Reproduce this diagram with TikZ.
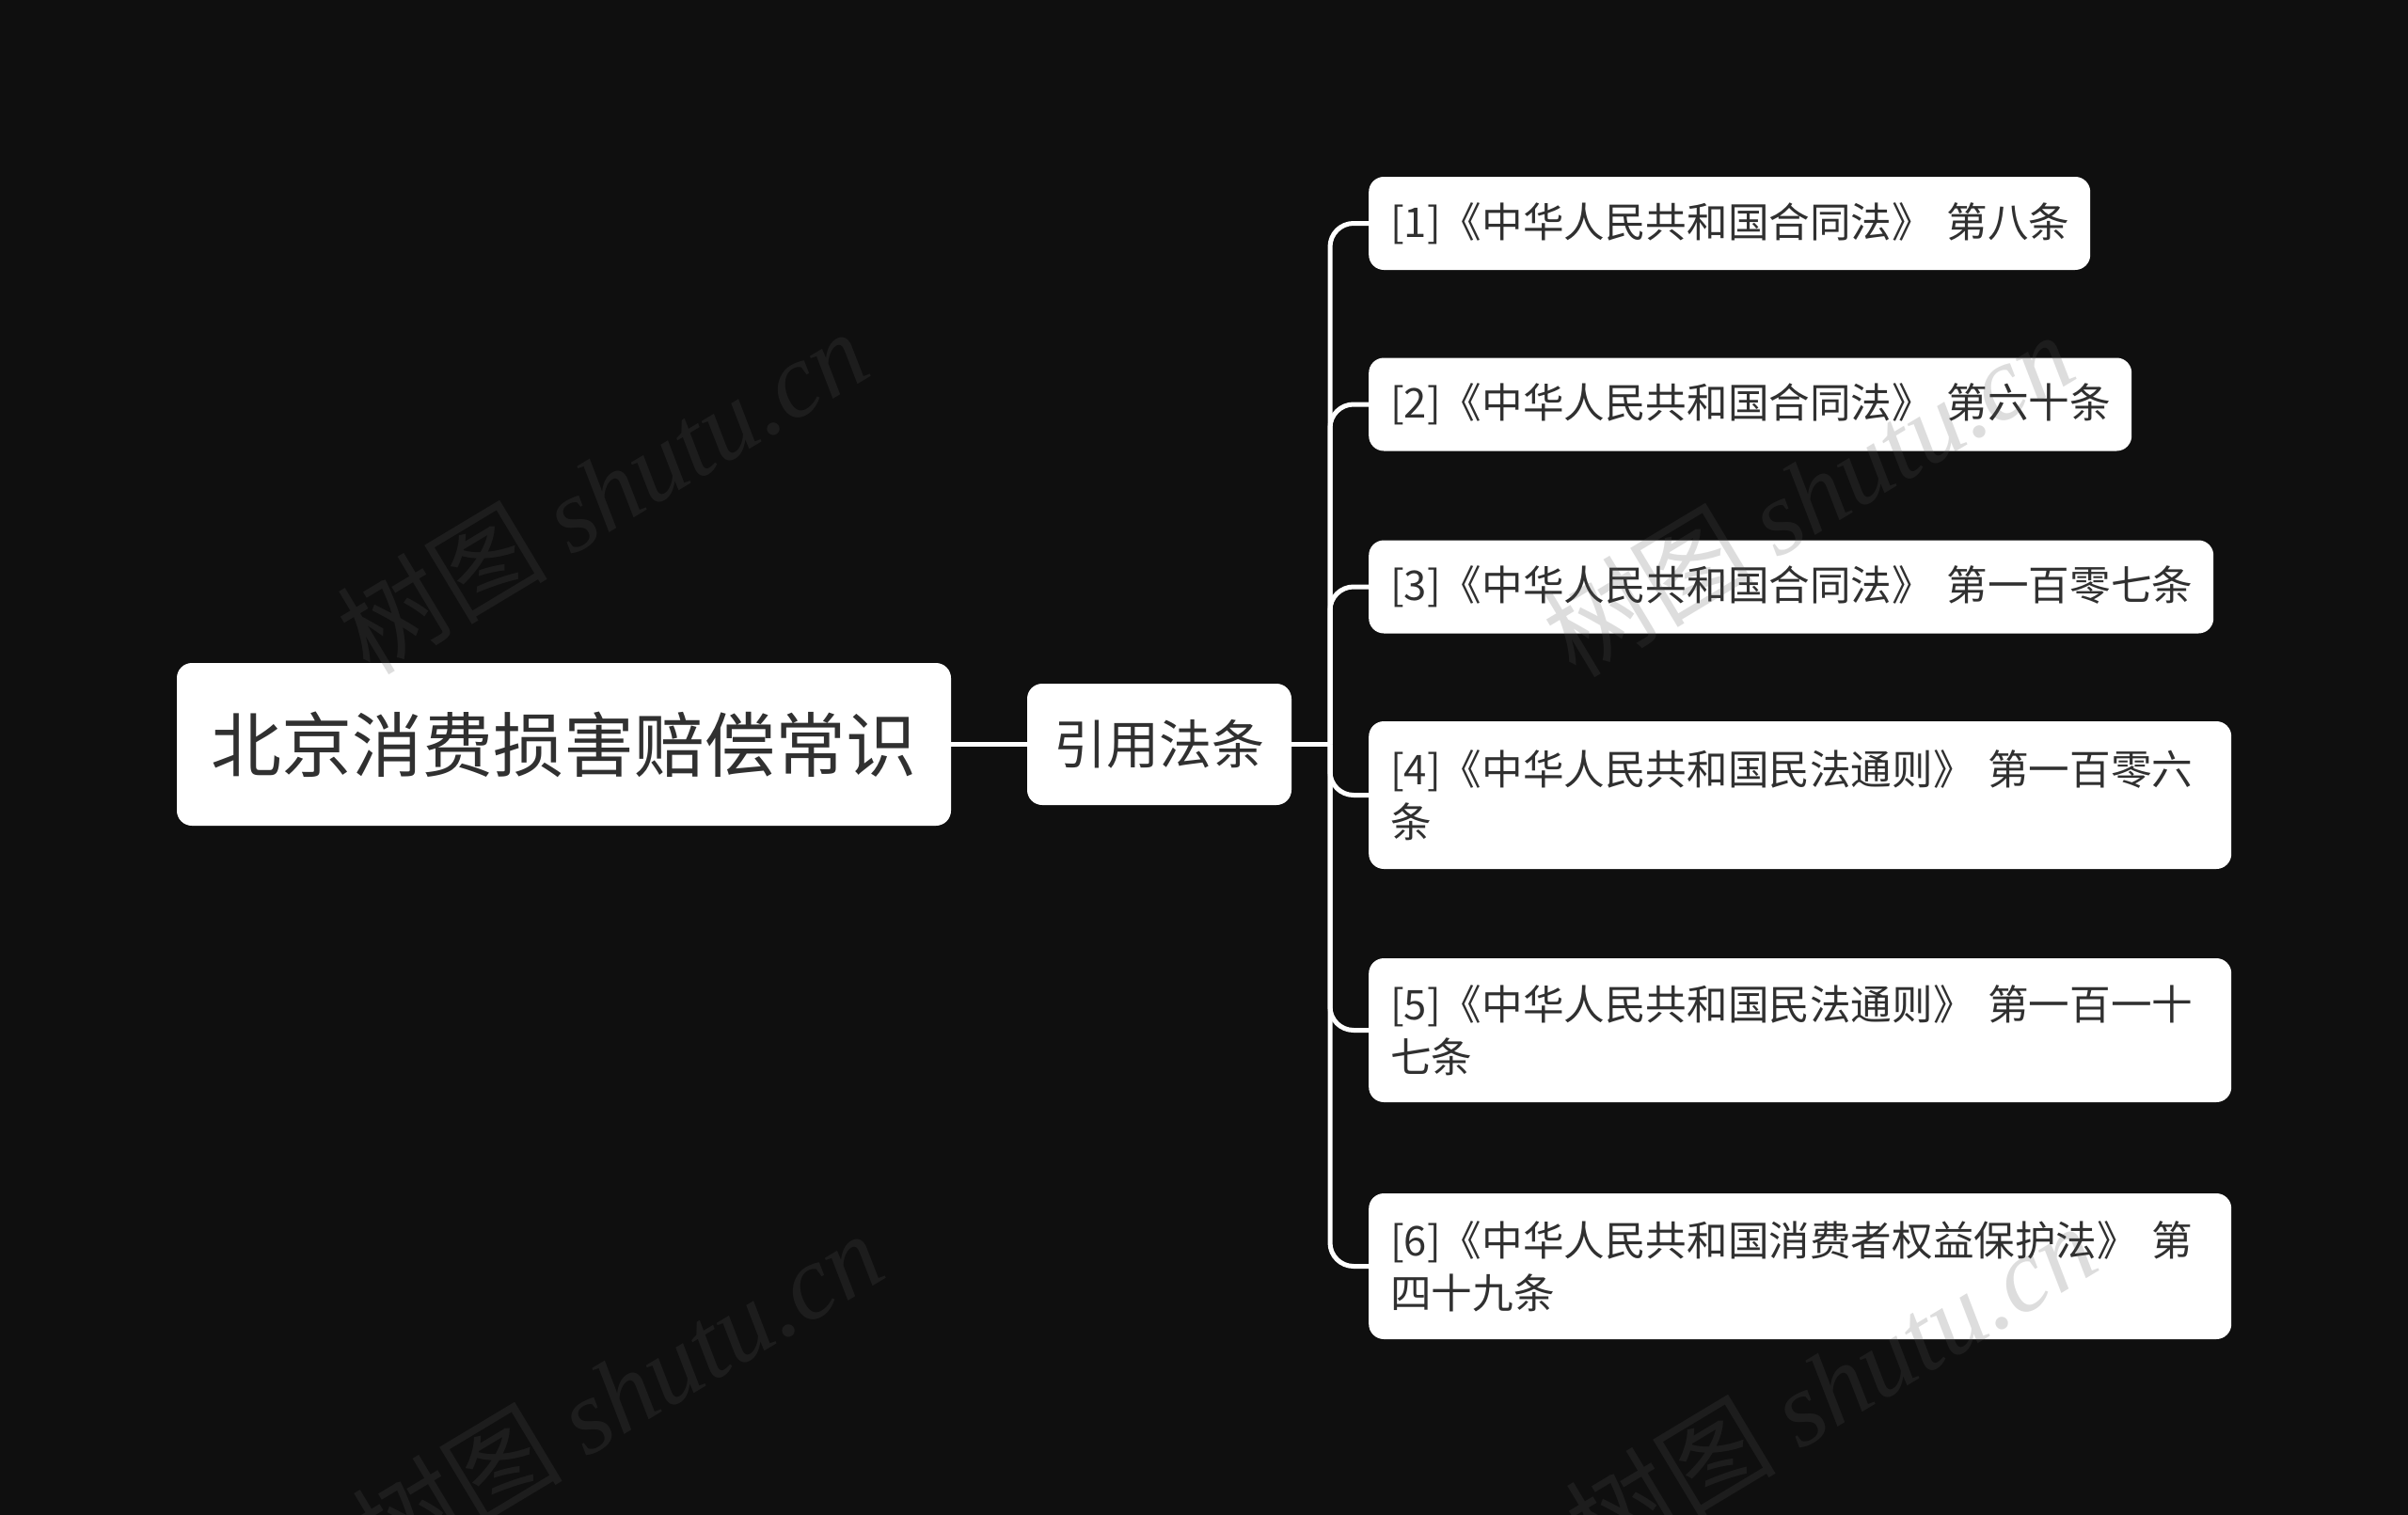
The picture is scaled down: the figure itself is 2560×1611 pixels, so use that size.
\documentclass[tikz,border=0pt]{standalone}
\usepackage{fontspec}
\setmainfont{Noto Sans CJK SC}
\newfontfamily\wmlatin{Liberation Serif}
\newfontfamily\wmcjk{Noto Sans CJK SC}
\definecolor{bgc}{HTML}{0F0F0F}
\definecolor{txt}{HTML}{303030}
\definecolor{wm}{HTML}{575757}
\newcommand\leafline[1]{\makebox[\linewidth][l]{#1}}
\tikzset{
  box/.style={fill=white, rounded corners=16pt, text=txt, inner xsep=23pt, inner ysep=0pt},
  leaf/.style={box, anchor=west, align=left, font=\fontsize{43.6}{56}\selectfont},
  link/.style={draw=white, line width=5pt},
  wmark/.style={text=wm, opacity=0.2, rotate=31, inner sep=0pt, font=\fontsize{112}{120}\selectfont}
}
\begin{document}
\begin{tikzpicture}[x=1pt,y=-1pt]
\fill[bgc] (0,0) rectangle (2560,1611);
\useasboundingbox (0,0) rectangle (2560,1611);
\clip (0,0) rectangle (2560,1611);

% root and sub
\node[box, align=center, text width=777pt, minimum height=173pt, font=\fontsize{75}{90}\selectfont]
  (root) at (599.5,791.5) {北京消费损害赔偿常识};
\node[box, align=center, text width=235pt, minimum height=129pt, font=\fontsize{56}{66}\selectfont]
  (sub) at (1232.5,791.5) {引用法条};

% leaves
\node[leaf, text width=721pt, minimum height=99pt] (c1) at (1455,237.5)
  {\leafline{[1]《中华人民共和国合同法》 第八条}};
\node[leaf, text width=765pt, minimum height=99pt] (c2) at (1455,430)
  {\leafline{[2]《中华人民共和国合同法》 第六十条}};
\node[leaf, text width=852pt, minimum height=99pt] (c3) at (1455,624)
  {\leafline{[3]《中华人民共和国合同法》 第一百零七条}};
\node[leaf, text width=871pt, minimum height=157pt] (c4) at (1455,845.5)
  {\leafline{[4]《中华人民共和国民法通则》 第一百零六}\\条};
\node[leaf, text width=871pt, minimum height=153pt] (c5) at (1455,1095.5)
  {\leafline{[5]《中华人民共和国民法通则》 第一百一十}\\七条};
\node[leaf, text width=871pt, minimum height=155pt] (c6) at (1455,1346.5)
  {\leafline{[6]《中华人民共和国消费者权益保护法》 第}\\四十九条};

% connectors
\coordinate (trunk) at (1414,791.5);
\draw[link] (root.east) -- (sub.west);
\draw[link] (sub.east) -- (trunk);
\foreach \c in {c1,c2,c3,c4,c5,c6}{
  \draw[link, rounded corners=25pt] (trunk) |- (\c.west);
}

% watermarks
\node[wmark] (w1) at (640,522) {{\wmcjk 树图} {\wmlatin\itshape shutu.cn}};
\node[wmark] (w2) at (1922,525) {{\wmcjk 树图} {\wmlatin\itshape shutu.cn}};
\node[wmark] (w3) at (656,1481) {{\wmcjk 树图} {\wmlatin\itshape shutu.cn}};
\node[wmark] (w4) at (1946,1473) {{\wmcjk 树图} {\wmlatin\itshape shutu.cn}};
\end{tikzpicture}
\end{document}
